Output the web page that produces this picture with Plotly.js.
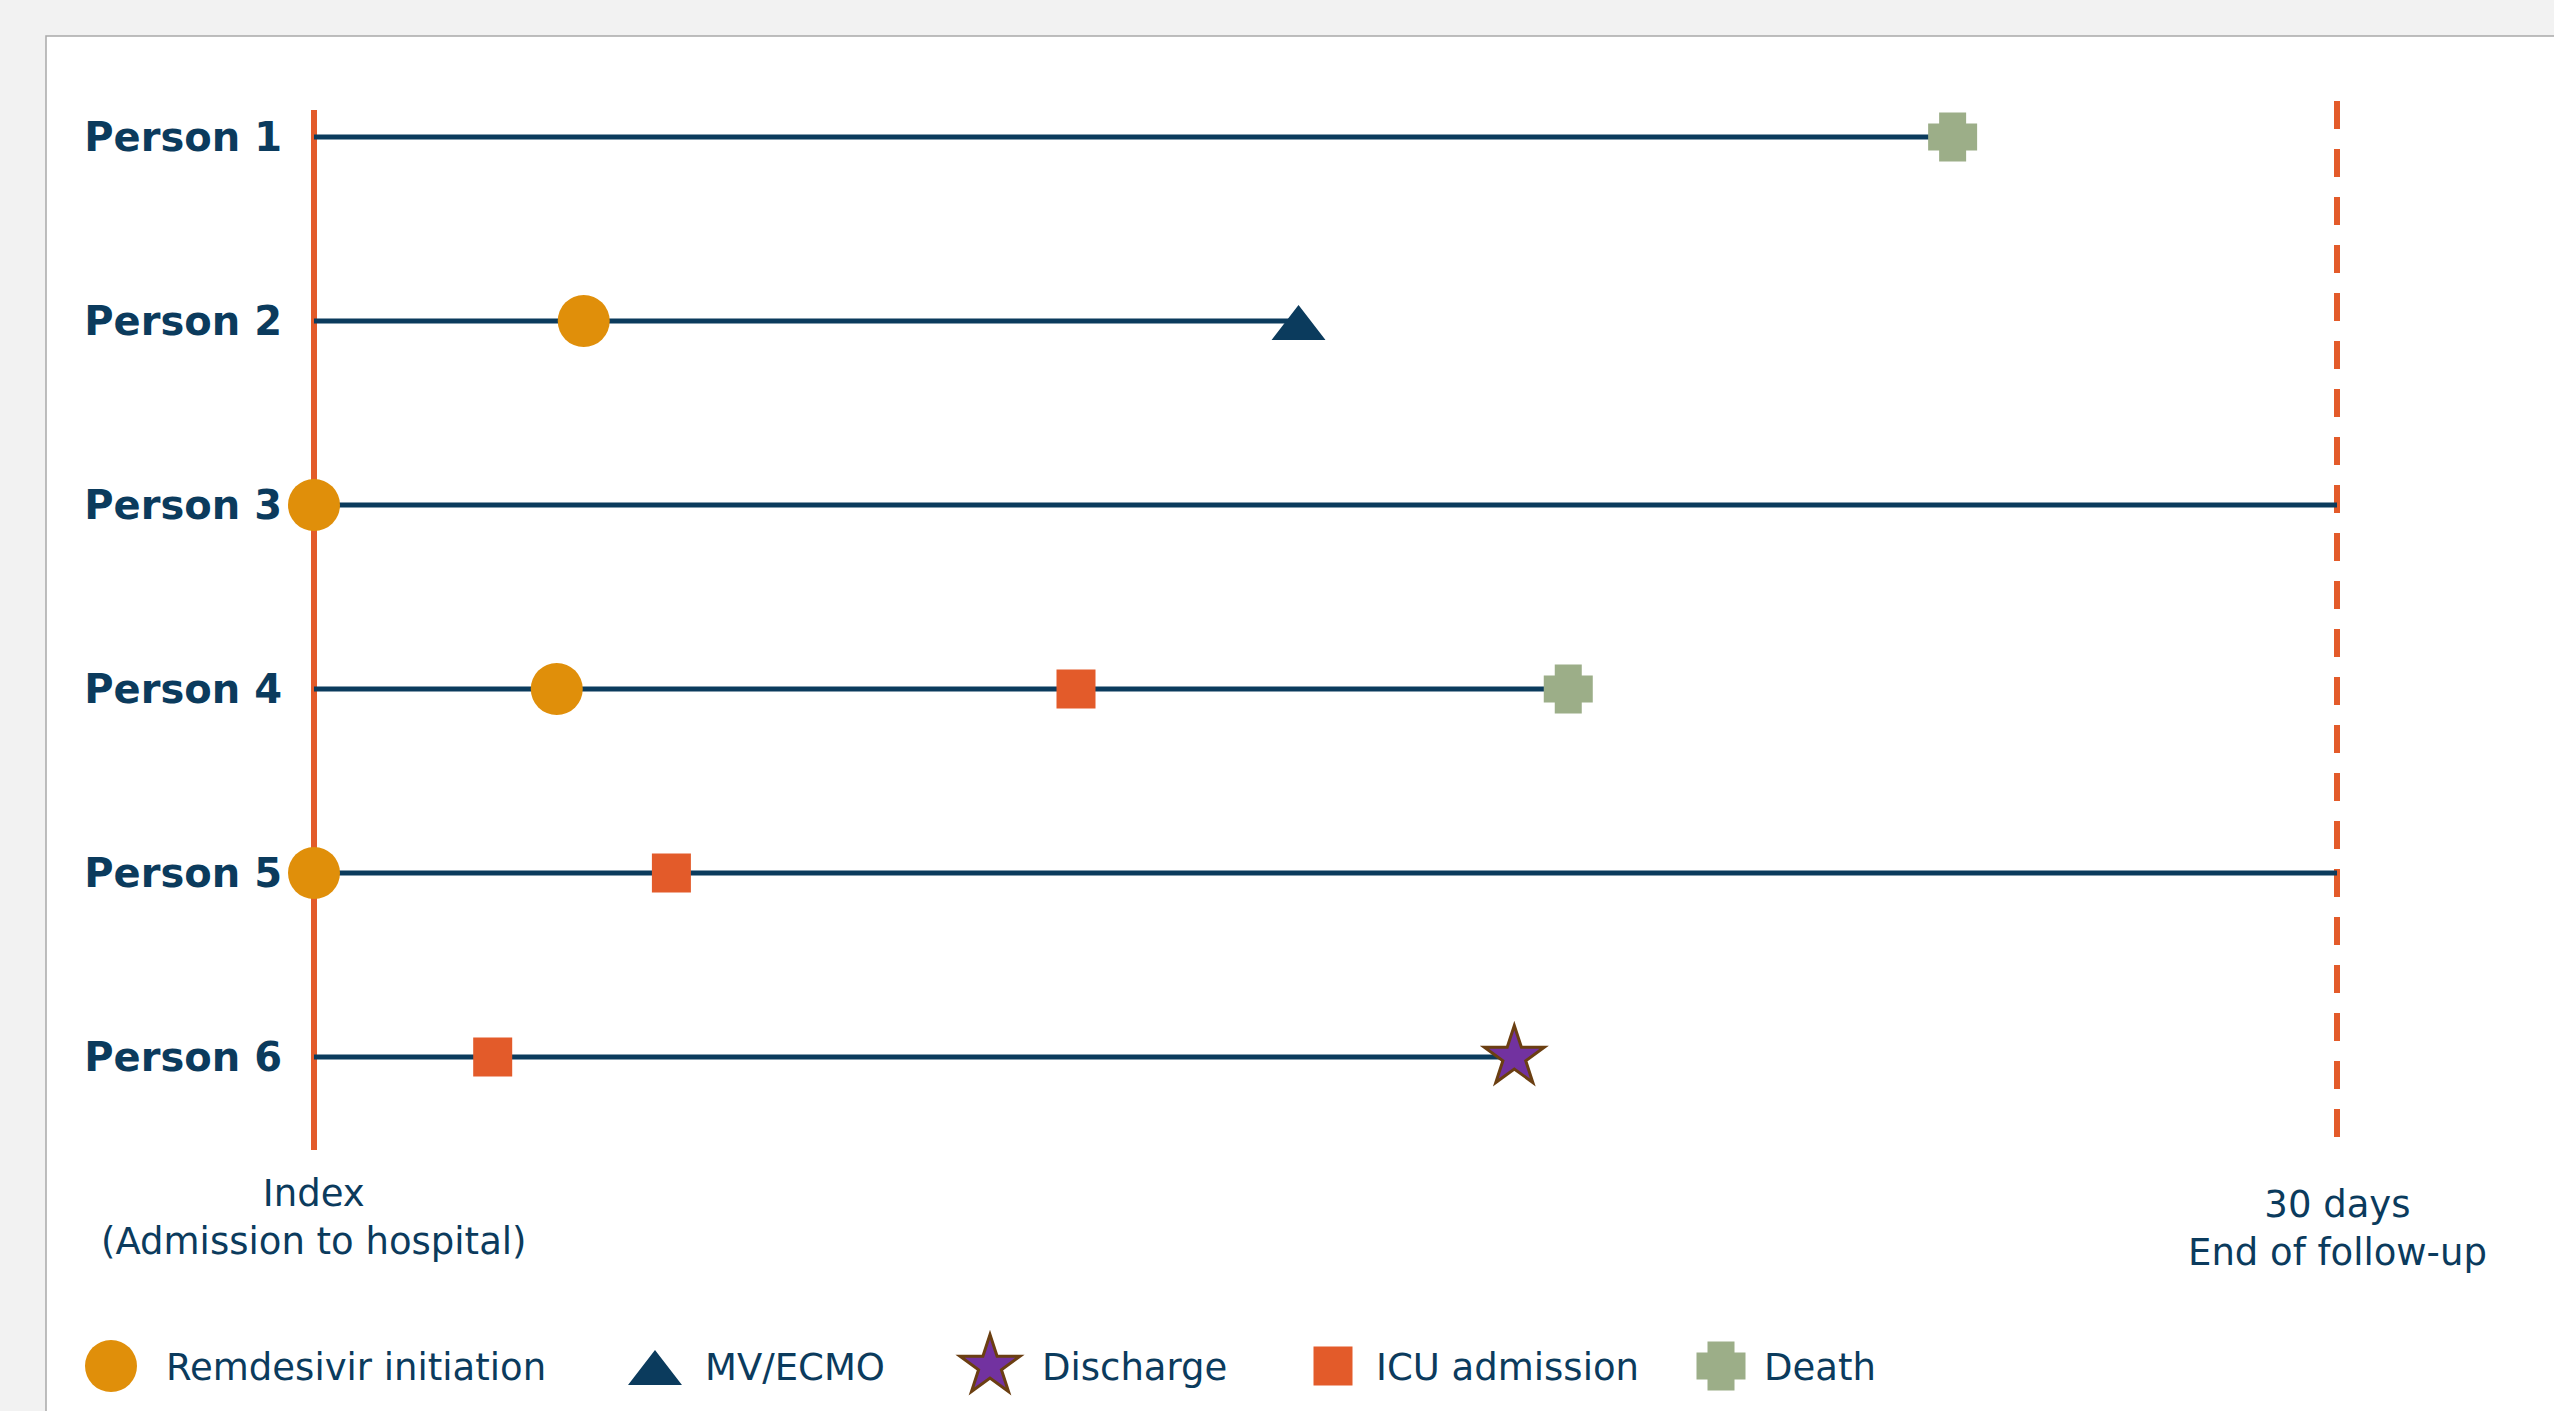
<!DOCTYPE html>
<html>
<head>
<meta charset="utf-8">
<script src="https://cdn.plot.ly/plotly-3.0.1.min.js"></script>
<style>
  html, body { margin: 0; padding: 0; background: #f2f2f2; }
  #chart { width: 2554px; height: 1411px; }
  /* sharp corners for the outlined event symbols */
  #chart path.point { stroke-linejoin: miter !important; stroke-miterlimit: 10 !important; }
</style>
</head>
<body>
<div id="chart"></div>
<script>
// Patient timelines from hospital admission (day 0) to end of follow-up (day 30)
const persons = ['Person 1', 'Person 2', 'Person 3', 'Person 4', 'Person 5', 'Person 6'];

// Day on which each event happened for each person (null = no such event)
const remdesivirDay = [null, 4.0, 0, 3.6, 0, null];
const mvEcmoDay     = [null, 14.6, null, null, null, null];
const dischargeDay  = [null, null, null, null, null, 17.8];
const icuDay        = [null, null, null, 11.3, 5.3, 2.65];
const deathDay      = [24.3, null, null, 18.6, null, null];

const indexDay = 0;
const followUpDays = 30;
const indexLabel = 'Index<br>(Admission to hospital)';
const followUpLabel = '30 days<br>End of follow-up';
const legendNames = ['Remdesivir initiation', 'MV/ECMO', 'Discharge', 'ICU admission', 'Death'];

// A timeline stops at death, discharge or MV/ECMO, otherwise runs to end of follow-up
const endDay = persons.map((_, i) =>
  deathDay[i] ?? dischargeDay[i] ?? mvEcmoDay[i] ?? followUpDays);

// ---- page geometry (pixels) ----
const W = 2554, H = 1411;
const X0_PX = 314, X30_PX = 2337;          // day 0 and day 30
const PLOT_LEFT = 294, PLOT_RIGHT = 2545;
const ROW0_PX = 137, ROW_STEP = 184;        // first row and row spacing
const PLOT_TOP = 27, PLOT_BOTTOM = 1204;
const pxPerDay = (X30_PX - X0_PX) / (followUpDays - indexDay);
const py = px => 1 - px / H;                 // pixel row -> paper y

// ---- colours ----
const NAVY = '#0b3b5d';
const RED_ORANGE = '#e35b2a';
const FONT = '"DejaVu Sans", Verdana, sans-serif';

// the thick outline on the triangle and cross widens their shapes;
// standoff lowers the triangle so it sits centred on its timeline
const markerStyles = {
  remdesivir: { symbol: 'circle', size: 52, color: '#e08f0a', line: { width: 0 } },
  mv:         { symbol: 'triangle-up', size: 8, color: NAVY, standoff: 6, line: { width: 22, color: NAVY } },
  discharge:  { symbol: 'star', size: 45, color: '#7232a0', line: { width: 3, color: '#6b3f12' } },
  icu:        { symbol: 'square', size: 39, color: RED_ORANGE, line: { width: 0 } },
  death:      { symbol: 'cross', size: 27.5, color: '#9cae88', line: { width: 16, color: '#9cae88' } }
};
const legendOrder = ['remdesivir', 'mv', 'discharge', 'icu', 'death'];
const legendKeyPx  = [111, 655, 990, 1333, 1721];
const legendTextPx = [164, 703, 1040, 1374, 1762];
const LEGEND_Y_PX = 1366;

// ---- traces ----
const lineX = [], lineY = [];
persons.forEach((p, i) => {
  lineX.push(indexDay, endDay[i], null);
  lineY.push(p, p, null);
});

const traces = [{
  type: 'scatter', mode: 'lines', x: lineX, y: lineY,
  line: { color: NAVY, width: 5 }, cliponaxis: false,
  hoverinfo: 'skip', showlegend: false
}];

function eventTrace(days, key, name) {
  return {
    type: 'scatter', mode: 'markers', name: name,
    x: days, y: persons,
    marker: markerStyles[key], cliponaxis: false, showlegend: false
  };
}
traces.push(eventTrace(remdesivirDay, 'remdesivir', legendNames[0]));
traces.push(eventTrace(icuDay, 'icu', legendNames[3]));
traces.push(eventTrace(deathDay, 'death', legendNames[4]));
traces.push(eventTrace(mvEcmoDay, 'mv', legendNames[1]));
traces.push(eventTrace(dischargeDay, 'discharge', legendNames[2]));

// key symbols of the legend, drawn on a pixel-scaled overlay axis pair
legendOrder.forEach((key, i) => {
  traces.push({
    type: 'scatter', mode: 'markers', xaxis: 'x2', yaxis: 'y2',
    x: [legendKeyPx[i]], y: [LEGEND_Y_PX],
    marker: markerStyles[key], cliponaxis: false,
    hoverinfo: 'skip', showlegend: false
  });
});

const annotations = [
  { xref: 'x', yref: 'paper', x: indexDay, y: py(1217), text: indexLabel,
    showarrow: false, xanchor: 'center', yanchor: 'middle',
    font: { family: FONT, size: 37, color: NAVY } },
  { xref: 'x', yref: 'paper', x: followUpDays, y: py(1228), text: followUpLabel,
    showarrow: false, xanchor: 'center', yanchor: 'middle',
    font: { family: FONT, size: 37, color: NAVY } }
];
legendNames.forEach((name, i) => {
  annotations.push({
    xref: 'x2', yref: 'y2', x: legendTextPx[i], y: LEGEND_Y_PX + 1, text: name,
    showarrow: false, xanchor: 'left', yanchor: 'middle',
    font: { family: FONT, size: 37, color: NAVY }
  });
});

const layout = {
  width: W, height: H,
  margin: { l: 0, r: 0, t: 0, b: 0 },
  paper_bgcolor: '#f2f2f2',
  plot_bgcolor: 'rgba(0,0,0,0)',
  showlegend: false,
  xaxis: {
    domain: [PLOT_LEFT / W, PLOT_RIGHT / W],
    range: [indexDay + (PLOT_LEFT - X0_PX) / pxPerDay, indexDay + (PLOT_RIGHT - X0_PX) / pxPerDay],
    visible: false, fixedrange: true
  },
  yaxis: {
    domain: [1 - PLOT_BOTTOM / H, 1 - PLOT_TOP / H],
    type: 'category', categoryorder: 'array', categoryarray: persons,
    range: [(PLOT_BOTTOM - ROW0_PX) / ROW_STEP, (PLOT_TOP - ROW0_PX) / ROW_STEP],
    showgrid: false, zeroline: false, showline: false, ticks: '',
    ticklabelstandoff: 11,
    tickfont: { family: FONT, size: 40, color: NAVY, weight: 'bold' },
    fixedrange: true
  },
  xaxis2: { domain: [0, 1], range: [0, W], anchor: 'y2', visible: false, fixedrange: true },
  yaxis2: { domain: [0, 1], range: [H, 0], anchor: 'x2', visible: false, fixedrange: true },
  shapes: [
    // white panel
    { type: 'rect', xref: 'paper', yref: 'paper', layer: 'below',
      x0: 46 / W, x1: 1.05, y0: -0.05, y1: py(36),
      fillcolor: '#ffffff', line: { color: '#a9a9a9', width: 1.5 } },
    // index (admission) line
    { type: 'line', xref: 'x', yref: 'paper', layer: 'below',
      x0: indexDay, x1: indexDay, y0: py(110), y1: py(1150),
      line: { color: RED_ORANGE, width: 6 } },
    // end of follow-up
    { type: 'line', xref: 'x', yref: 'paper', layer: 'below',
      x0: followUpDays, x1: followUpDays, y0: py(101), y1: py(1143),
      line: { color: RED_ORANGE, width: 6, dash: '28px,20px' } }
  ],
  annotations: annotations
};

Plotly.newPlot('chart', traces, layout, { staticPlot: true, displayModeBar: false });
</script>
</body>
</html>
